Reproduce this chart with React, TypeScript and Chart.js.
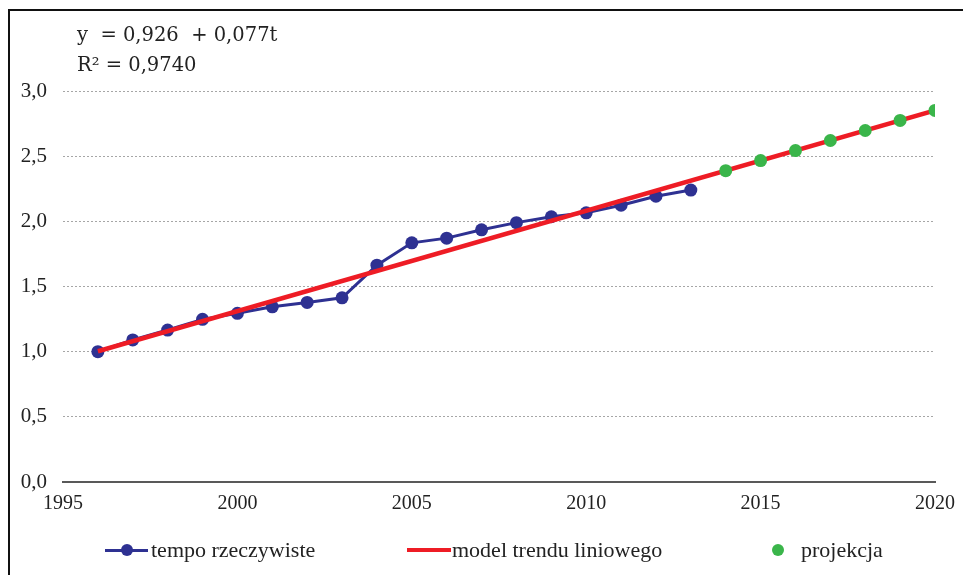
import React, { useEffect, useRef } from "react";
import { Chart, registerables } from "chart.js";

Chart.register(...registerables);

const actualYears = [1996, 1997, 1998, 1999, 2000, 2001, 2002, 2003, 2004, 2005, 2006, 2007, 2008, 2009, 2010, 2011, 2012, 2013];
const actualValues = [1.0, 1.09, 1.166, 1.248, 1.294, 1.344, 1.378, 1.413, 1.664, 1.835, 1.871, 1.935, 1.99, 2.035, 2.065, 2.124, 2.193, 2.24];

const trendYears = [1996, 2020];
const trendValues = [1.003, 2.851];

const projectionYears = [2014, 2015, 2016, 2017, 2018, 2019, 2020];
const projectionValues = [2.389, 2.466, 2.543, 2.62, 2.697, 2.774, 2.851];

const yTicks = [0, 0.5, 1.0, 1.5, 2.0, 2.5, 3.0];
const xTicks = [1995, 2000, 2005, 2010, 2015, 2020];

const legendLabels = ["tempo rzeczywiste", "model trendu liniowego", "projekcja"];
const equationLines = ["y  = 0,926  + 0,077t", "R\u00B2 = 0,9740"];

const BLUE = "#2E3192";
const RED = "#EE1C25";
const GREEN = "#3AB54A";
const FONT = "'Liberation Serif', 'Times New Roman', serif";
const EQ_FONT = "'DejaVu Serif', serif";

function pts(xs: number[], ys: number[]) {
  return xs.map((x, i) => ({ x, y: ys[i] }));
}

export default function App() {
  const ref = useRef<HTMLCanvasElement | null>(null);

  useEffect(() => {
    if (!ref.current) return;
    const chart = new Chart(ref.current, {
      type: "scatter",
      data: {
        datasets: [
          {
            label: legendLabels[2],
            data: pts(projectionYears, projectionValues),
            showLine: false,
            pointRadius: 6.5,
            pointBackgroundColor: GREEN,
            pointBorderColor: GREEN,
            pointBorderWidth: 0,
            order: 0,
          },
          {
            label: legendLabels[1],
            data: pts(trendYears, trendValues),
            showLine: true,
            borderColor: RED,
            borderWidth: 4.5,
            pointRadius: 0,
            order: 1,
          },
          {
            label: legendLabels[0],
            data: pts(actualYears, actualValues),
            showLine: true,
            borderColor: BLUE,
            borderWidth: 3,
            pointRadius: 6.5,
            pointBackgroundColor: BLUE,
            pointBorderColor: BLUE,
            pointBorderWidth: 0,
            order: 2,
          },
        ],
      },
      options: {
        animation: false,
        responsive: false,
        maintainAspectRatio: false,
        layout: { padding: { left: 0, right: 36, top: 80, bottom: 0 } },
        plugins: { legend: { display: false }, tooltip: { enabled: false } },
        scales: {
          x: {
            type: "linear",
            min: xTicks[0],
            max: xTicks[xTicks.length - 1],
            afterBuildTicks: (s: any) => {
              s.ticks = xTicks.map((v) => ({ value: v }));
            },
            afterFit: (s: any) => {
              s.height = 94;
            },
            grid: { display: false, drawTicks: false },
            border: { display: true, color: "#595959", width: 2 },
            ticks: {
              padding: 10,
              color: "#222",
              font: { family: FONT, size: 20 },
              callback: (v: any) => String(v),
            },
          },
          y: {
            min: yTicks[0],
            max: yTicks[yTicks.length - 1],
            afterBuildTicks: (s: any) => {
              s.ticks = yTicks.map((v) => ({ value: v }));
            },
            afterFit: (s: any) => {
              s.width = 53;
            },
            grid: {
              drawTicks: false,
              color: (ctx: any) => (ctx.tick && ctx.tick.value === 0 ? "rgba(0,0,0,0)" : "#A6A6A6"),
              lineWidth: 1,
            },
            border: { display: false, dash: [2, 2] },
            ticks: {
              padding: 16,
              color: "#222",
              font: { family: FONT, size: 21 },
              callback: (v: any) => Number(v).toFixed(1).replace(".", ","),
            },
          },
        },
      },
    });
    return () => chart.destroy();
  }, []);

  const textStyle: React.CSSProperties = {
    position: "absolute",
    fontFamily: FONT,
    fontSize: 22,
    color: "#222",
    lineHeight: "24px",
    whiteSpace: "pre",
  };

  // positions are relative to container padding box origin (page 10, 11)
  return (
    <div
      style={{
        position: "relative",
        top: 1,
        width: 963,
        height: 567,
        boxSizing: "border-box",
        borderLeft: "2px solid #111",
        borderTop: "2px solid #111",
        overflow: "hidden",
        background: "#fff",
      }}
    >
      <canvas ref={ref} width={961} height={565} style={{ position: "absolute", left: 0, top: 0, width: 961, height: 565 }} />
      <div style={{ ...textStyle, left: 67, top: 12, fontFamily: EQ_FONT, fontSize: 19.5 }}>{equationLines[0]}</div>
      <div style={{ ...textStyle, left: 67, top: 42, fontFamily: EQ_FONT, fontSize: 19.5 }}>{equationLines[1]}</div>

      <div style={{ position: "absolute", left: 95, top: 538, width: 43, height: 3, background: BLUE }} />
      <div style={{ position: "absolute", left: 111, top: 533, width: 12, height: 12, borderRadius: 6, background: BLUE }} />
      <div style={{ ...textStyle, left: 141, top: 527 }}>{legendLabels[0]}</div>

      <div style={{ position: "absolute", left: 397, top: 537, width: 44, height: 4, background: RED }} />
      <div style={{ ...textStyle, left: 442, top: 527 }}>{legendLabels[1]}</div>

      <div style={{ position: "absolute", left: 762, top: 533, width: 12, height: 12, borderRadius: 6, background: GREEN }} />
      <div style={{ ...textStyle, left: 791, top: 527 }}>{legendLabels[2]}</div>
    </div>
  );
}
